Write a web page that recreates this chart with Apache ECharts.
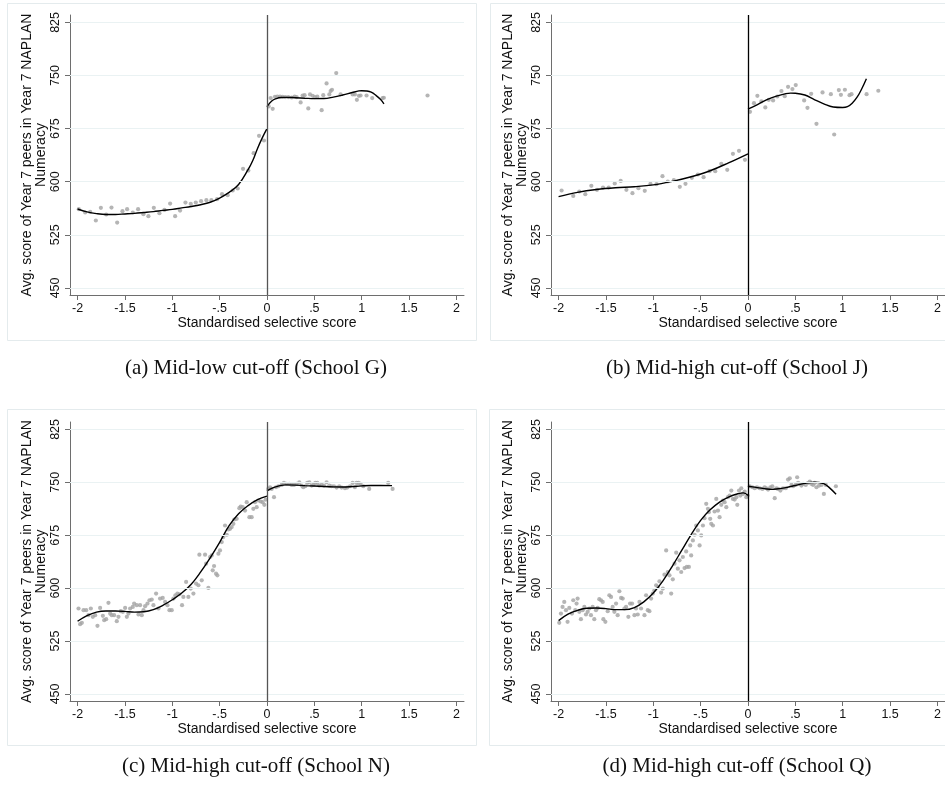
<!DOCTYPE html>
<html><head><meta charset="utf-8">
<script src="https://cdn.jsdelivr.net/npm/echarts@6/dist/echarts.min.js"></script>
<style>html,body{margin:0;padding:0;background:#fff}#c{width:945px;height:785px}</style>
</head><body><div id="c"></div>
<script>
// ---------- tick values ----------
const xTicks = [-2, -1.5, -1, -0.5, 0, 0.5, 1, 1.5, 2];
const yTicks = [450, 525, 600, 675, 750, 825];
const captions = ['(a) Mid-low cut-off (School G)', '(b) Mid-high cut-off (School J)',
                  '(c) Mid-high cut-off (School N)', '(d) Mid-high cut-off (School Q)'];
const xTitle = 'Standardised selective score';
const yTitle = 'Avg. score of Year 7 peers in Year 7 NAPLAN\nNumeracy';

// ---------- Panel A (School G) ----------
const pointsA = [[-1.987,561.2],[-1.92,556.5],[-1.867,557.4],[-1.807,545.2],[-1.754,563.1],[-1.698,553.7],[-1.642,563.5],[-1.582,542.3],[-1.526,558.4],[-1.477,561.2],[-1.417,556.5],[-1.361,561.2],[-1.305,554.1],[-1.252,551.3],[-1.195,563.1],[-1.136,555.5],[-1.083,560.2],[-1.023,569.2],[-0.97,551.3],[-0.918,559.3],[-0.861,570.6],[-0.805,568.7],[-0.752,570.6],[-0.696,572.5],[-0.64,573.9],[-0.587,573.9],[-0.527,575.3],[-0.475,582.4],[-0.415,581.0],[-0.362,587.6],[-0.309,590.4],[-0.253,618.2],[-0.197,615.8],[-0.141,640.3],[-0.084,664.8],[-0.032,658.2],
[0.018,706.3],[0.06,703.0],[0.039,718.1],[0.084,720.0],[0.109,720.4],[0.137,720.4],[0.165,720.0],[0.193,719.5],[0.225,719.5],[0.26,719.0],[0.292,720.4],[0.313,719.5],[0.355,712.0],[0.376,721.8],[0.397,722.3],[0.436,703.5],[0.454,723.3],[0.482,721.4],[0.506,719.5],[0.531,720.4],[0.577,701.1],[0.594,722.3],[0.629,738.8],[0.658,723.3],[0.672,728.0],[0.686,729.9],[0.731,753.4],[0.777,723.3],[0.904,723.3],[0.928,723.3],[0.949,715.7],[0.97,721.4],[0.988,721.8],[1.051,721.8],[1.111,718.1],[1.22,718.1],[1.234,718.6],[1.695,721.8]];
const fitALeft = [[-2,561.5],[-1.9,557.5],[-1.8,555],[-1.7,553.8],[-1.6,553.8],[-1.5,554.5],[-1.4,555.3],[-1.3,556.5],[-1.2,557.8],[-1.1,559.5],[-1.0,561],[-0.9,563],[-0.8,565],[-0.7,567.5],[-0.6,571],[-0.5,577],[-0.4,585],[-0.3,596],[-0.2,617],[-0.15,630],[-0.1,647],[-0.05,662],[0,675]];
const fitARight = [[0,706],[0.05,714],[0.1,717.5],[0.15,719],[0.2,719.2],[0.3,718.7],[0.4,718],[0.5,717.4],[0.6,717.5],[0.7,719.5],[0.8,722.5],[0.9,726],[0.97,728.3],[1.0,728.6],[1.05,728.2],[1.1,726.5],[1.15,722],[1.2,716],[1.235,710]];

// ---------- Panel B (School J) ----------
const pointsB = [[-1.968,587.6],[-1.845,580.0],[-1.781,586.2],[-1.718,582.4],[-1.654,594.2],[-1.594,588.5],[-1.531,591.8],[-1.471,591.8],[-1.407,597.5],[-1.344,601.2],[-1.284,588.5],[-1.22,583.8],[-1.157,590.9],[-1.09,587.1],[-1.03,597.0],[-0.966,596.5],[-0.903,607.8],[-0.847,600.3],[-0.783,602.2],[-0.72,592.8],[-0.66,597.0],[-0.593,605.5],[-0.529,610.2],[-0.469,606.4],[-0.406,614.9],[-0.346,614.9],[-0.282,625.3],[-0.219,616.8],[-0.159,639.4],[-0.095,643.6],[-0.032,630.9],
[0.021,698.8],[0.063,711.0],[0.099,721.4],[0.141,713.4],[0.183,704.9],[0.219,715.7],[0.265,714.8],[0.31,720.4],[0.353,728.0],[0.388,720.9],[0.423,734.1],[0.469,730.8],[0.504,736.5],[0.593,714.8],[0.628,704.4],[0.667,724.2],[0.723,681.8],[0.787,726.1],[0.875,723.7],[0.91,666.7],[0.959,729.4],[0.981,722.8],[1.023,729.9],[1.072,722.3],[1.093,723.7],[1.252,723.7],[1.376,728.5]];
const fitBLeft = [[-2,579],[-1.8,585],[-1.6,589],[-1.4,591.5],[-1.2,593],[-1.0,595.5],[-0.8,600.5],[-0.6,607],[-0.4,615.5],[-0.2,627],[0,639.5]];
const fitBRight = [[0,702.5],[0.1,709],[0.2,716],[0.3,721],[0.4,724.5],[0.45,725.2],[0.5,725],[0.6,722.5],[0.7,716],[0.8,710],[0.9,705.5],[1.0,704.8],[1.05,706],[1.1,711],[1.15,719],[1.2,731],[1.25,745.5]];

// ---------- Panel C (School N) ----------
const pointsC = [[-1.99,571.1],[-1.973,548.9],[-1.955,550.8],[-1.937,568.7],[-1.909,568.7],[-1.885,561.7],[-1.86,571.1],[-1.839,559.3],[-1.814,561.7],[-1.79,546.6],[-1.762,572.0],[-1.733,560.7],[-1.719,554.6],[-1.698,556.0],[-1.674,579.1],[-1.656,564.0],[-1.639,561.7],[-1.614,561.7],[-1.586,553.2],[-1.568,559.3],[-1.544,567.3],[-1.522,566.4],[-1.498,572.0],[-1.48,559.3],[-1.463,564.0],[-1.445,571.1],[-1.417,573.4],[-1.403,578.1],[-1.375,575.8],[-1.357,562.6],[-1.34,575.8],[-1.322,561.7],[-1.304,568.7],[-1.287,574.4],[-1.262,578.1],[-1.241,582.8],[-1.217,583.8],[-1.199,575.8],[-1.171,592.3],[-1.146,571.1],[-1.129,585.2],[-1.101,586.1],[-1.076,580.5],[-1.051,575.8],[-1.03,568.7],[-1.006,568.7],[-0.988,585.2],[-0.967,589.9],[-0.946,592.3],[-0.925,591.3],[-0.897,575.8],[-0.883,587.6],[-0.854,608.8],[-0.83,587.6],[-0.805,599.3],[-0.777,592.3],[-0.749,606.4],[-0.724,604.1],[-0.714,647.4],[-0.689,611.1],[-0.654,647.4],[-0.643,634.7],[-0.619,600.3],[-0.601,644.1],[-0.584,646.4],[-0.573,625.2],[-0.559,631.4],[-0.538,620.5],[-0.524,618.2],[-0.513,648.8],[-0.496,653.5],[-0.478,665.3],[-0.461,672.4],[-0.443,688.8],[-0.425,675.7],[-0.408,683.2],[-0.39,684.1],[-0.373,686.5],[-0.355,691.2],[-0.345,697.3],[-0.32,698.3],[-0.292,713.3],[-0.278,715.7],[-0.257,714.8],[-0.232,710.0],[-0.214,721.8],[-0.186,700.6],[-0.162,700.6],[-0.144,712.4],[-0.127,721.8],[-0.109,714.8],[-0.091,724.2],[-0.067,722.8],[-0.046,721.8],[-0.028,718.1],[-0.014,725.6],
[0.014,740.7],[0.032,743.0],[0.049,740.7],[0.074,728.9],[0.095,743.0],[0.12,744.4],[0.155,746.3],[0.179,749.2],[0.207,747.7],[0.236,747.7],[0.26,746.3],[0.285,746.3],[0.313,747.7],[0.341,750.1],[0.366,745.4],[0.383,743.0],[0.404,744.4],[0.425,749.2],[0.447,750.1],[0.471,745.4],[0.489,746.3],[0.51,749.2],[0.531,749.2],[0.552,745.4],[0.577,746.3],[0.601,745.4],[0.629,750.1],[0.658,745.4],[0.682,744.4],[0.707,744.4],[0.735,742.6],[0.763,744.4],[0.788,742.6],[0.823,741.6],[0.847,742.6],[0.876,744.4],[0.904,749.2],[0.928,743.0],[0.946,749.2],[0.967,749.2],[0.988,747.7],[1.016,744.4],[1.079,740.7],[1.28,749.2],[1.326,740.7]];
const fitCLeft = [[-2,553],[-1.9,561],[-1.8,566],[-1.7,567.5],[-1.6,567.5],[-1.5,567],[-1.4,566],[-1.3,566.5],[-1.2,569.5],[-1.1,575.5],[-1.0,583.5],[-0.9,593],[-0.8,605.5],[-0.7,623],[-0.6,643],[-0.5,665],[-0.4,688.5],[-0.3,705.5],[-0.2,717],[-0.1,725.5],[0,730.5]];
const fitCRight = [[0,738],[0.05,741.5],[0.1,744],[0.15,745.7],[0.2,746.3],[0.3,746],[0.4,745.3],[0.5,744.7],[0.6,744],[0.7,743.5],[0.8,743.3],[0.9,744],[1.0,745],[1.1,745.5],[1.2,745.5],[1.32,745.3]];

// ---------- Panel D (School Q) ----------
const pointsD = [[-1.993,550.8],[-1.975,564.0],[-1.958,573.4],[-1.94,580.5],[-1.922,568.7],[-1.905,552.2],[-1.887,572.0],[-1.859,564.0],[-1.845,582.8],[-1.824,568.7],[-1.81,578.1],[-1.799,585.2],[-1.781,566.4],[-1.764,556.0],[-1.746,568.7],[-1.728,573.4],[-1.711,562.6],[-1.693,566.4],[-1.675,571.1],[-1.658,561.7],[-1.64,573.4],[-1.623,556.0],[-1.605,568.7],[-1.587,572.0],[-1.57,584.3],[-1.552,582.8],[-1.534,580.5],[-1.527,556.0],[-1.506,552.2],[-1.481,567.3],[-1.464,589.9],[-1.446,587.6],[-1.429,573.4],[-1.411,566.4],[-1.393,578.1],[-1.376,561.7],[-1.358,595.6],[-1.34,586.1],[-1.323,585.2],[-1.305,571.1],[-1.287,573.4],[-1.263,559.3],[-1.245,578.1],[-1.224,578.1],[-1.199,561.7],[-1.182,571.1],[-1.164,562.6],[-1.146,580.5],[-1.129,571.1],[-1.093,561.7],[-1.076,589.9],[-1.058,568.7],[-1.041,567.3],[-1.023,585.2],[-1.005,592.3],[-0.988,597.0],[-0.97,604.1],[-0.952,601.7],[-0.935,609.7],[-0.917,593.7],[-0.899,599.3],[-0.882,619.1],[-0.864,653.5],[-0.847,622.9],[-0.829,618.2],[-0.811,592.3],[-0.794,612.5],[-0.776,634.7],[-0.758,650.2],[-0.741,627.6],[-0.723,639.4],[-0.705,622.9],[-0.688,644.1],[-0.67,628.5],[-0.653,652.1],[-0.646,630.0],[-0.624,630.0],[-0.61,660.6],[-0.6,646.4],[-0.582,667.6],[-0.564,675.7],[-0.547,688.8],[-0.529,681.8],[-0.511,660.6],[-0.494,674.7],[-0.476,688.8],[-0.459,699.2],[-0.441,719.5],[-0.423,712.4],[-0.413,707.7],[-0.399,698.3],[-0.388,691.2],[-0.37,688.8],[-0.353,708.6],[-0.335,726.5],[-0.317,710.0],[-0.3,700.6],[-0.282,718.1],[-0.265,724.2],[-0.247,721.8],[-0.229,714.8],[-0.212,728.9],[-0.194,731.2],[-0.176,738.3],[-0.159,726.5],[-0.141,725.6],[-0.123,728.9],[-0.113,718.1],[-0.095,738.3],[-0.081,731.2],[-0.071,741.6],[-0.053,733.6],[-0.035,736.9],[-0.018,728.9],[-0.004,731.2],
[0.018,744.4],[0.046,743.0],[0.071,741.6],[0.095,743.0],[0.123,741.6],[0.152,740.7],[0.176,743.0],[0.194,741.6],[0.212,739.7],[0.236,743.0],[0.257,744.4],[0.282,727.5],[0.3,741.6],[0.317,740.7],[0.342,738.3],[0.37,741.6],[0.399,741.6],[0.423,753.9],[0.441,755.7],[0.459,746.3],[0.476,744.4],[0.504,746.3],[0.519,757.2],[0.529,749.2],[0.547,747.7],[0.564,745.4],[0.582,747.7],[0.61,746.3],[0.635,749.2],[0.653,751.0],[0.67,747.7],[0.688,746.3],[0.705,749.2],[0.723,743.0],[0.751,745.4],[0.776,746.3],[0.801,733.6],[0.822,746.3],[0.928,744.4]];
const fitDLeft = [[-2,554],[-1.9,563],[-1.8,568.5],[-1.7,571.5],[-1.6,571.8],[-1.5,571],[-1.4,569.5],[-1.3,569.5],[-1.2,572.5],[-1.1,580.5],[-1.0,593],[-0.9,610],[-0.8,631],[-0.7,653.5],[-0.6,676],[-0.5,696],[-0.4,711],[-0.3,722],[-0.2,729.5],[-0.1,734],[-0.05,735],[0,731.5]];
const fitDRight = [[0,744.5],[0.1,742.5],[0.2,740.5],[0.25,740],[0.3,740.5],[0.4,742.5],[0.5,745.5],[0.6,748.5],[0.7,750],[0.75,749.8],[0.8,748],[0.85,743.5],[0.93,733]];

const panels = [
  {pts: pointsA, fitL: fitALeft, fitR: fitARight, vcol: '#555555'},
  {pts: pointsB, fitL: fitBLeft, fitR: fitBRight, vcol: '#000000'},
  {pts: pointsC, fitL: fitCLeft, fitR: fitCRight, vcol: '#555555'},
  {pts: pointsD, fitL: fitDLeft, fitR: fitDRight, vcol: '#000000'}
];

// ---------- layout ----------
const gridPos = [
  {left: 70, top: 15, width: 394, height: 280},
  {left: 551, top: 15, width: 394, height: 280},
  {left: 70, top: 422, width: 394, height: 279},
  {left: 551, top: 422, width: 394, height: 279}
];
const boxes = [[7,3,469,337],[490,3,470,337],[7,409,469,336],[489,409,470,336]];
const capPos = [[256,368],[737,368],[256,766],[737,766]];

const SANS = '"Liberation Sans", Arial, sans-serif';
const axisCol = '#6e6e6e';
const fmt = v => String(v).replace('0.', '.');

const option = {
  backgroundColor: '#ffffff',
  animation: false,
  grid: gridPos.map(g => Object.assign({containLabel: false}, g)),
  xAxis: gridPos.map((g, i) => ({
    gridIndex: i, type: 'value', min: -2.08, max: 2.08,
    axisLine: {show: true, onZero: false, lineStyle: {color: axisCol, width: 1}},
    axisTick: {show: true, customValues: xTicks, length: 5, lineStyle: {color: axisCol}},
    axisLabel: {customValues: xTicks, formatter: fmt, fontSize: 12.5, color: '#111', margin: 7, fontFamily: SANS},
    splitLine: {show: false},
    name: xTitle, nameLocation: 'middle', nameGap: 19,
    nameTextStyle: {fontSize: 14, color: '#111', fontFamily: SANS}
  })),
  yAxis: gridPos.map((g, i) => ({
    gridIndex: i, type: 'value', min: 440, max: 835.5,
    axisLine: {show: true, onZero: false, lineStyle: {color: axisCol, width: 1}},
    axisTick: {show: true, customValues: yTicks, length: 5, lineStyle: {color: axisCol}},
    axisLabel: {customValues: yTicks, rotate: 90, fontSize: 12.5, color: '#111', margin: 8, fontFamily: SANS},
    splitLine: {show: false},
    name: yTitle, nameLocation: 'middle', nameRotate: 90, nameGap: 21,
    nameTextStyle: {fontSize: 14, lineHeight: 14, color: '#111', fontFamily: SANS, align: 'center'}
  })),
  graphic: [
    ...boxes.map(b => ({type: 'rect', silent: true, z: -10,
      shape: {x: b[0] + 0.5, y: b[1] + 0.5, width: b[2], height: b[3]},
      style: {fill: 'none', stroke: '#e4ebed', lineWidth: 1}})),
    ...captions.map((t, i) => ({type: 'text', silent: true, x: capPos[i][0], y: capPos[i][1],
      style: {text: t, fill: '#111', font: '21px "Liberation Serif", "Times New Roman", serif',
              textAlign: 'center', textVerticalAlign: 'middle'}}))
  ],
  series: []
};

panels.forEach((p, i) => {
  // gridlines
  option.series.push({
    type: 'line', xAxisIndex: i, yAxisIndex: i, data: [], z: 1, silent: true,
    markLine: {silent: true, symbol: ['none', 'none'], label: {show: false},
      lineStyle: {color: '#eaf2f3', width: 1, type: 'solid'},
      data: yTicks.map(v => ({yAxis: v}))}
  });
  option.series.push({
    type: 'scatter', xAxisIndex: i, yAxisIndex: i, data: p.pts, z: 3,
    symbol: 'circle', symbolSize: 4.2, itemStyle: {color: '#a3a3a3'}, silent: true
  });
  option.series.push({
    type: 'line', xAxisIndex: i, yAxisIndex: i, data: p.fitL, z: 4, smooth: 0.4,
    showSymbol: false, lineStyle: {color: '#000', width: 1.4}, silent: true,
    markLine: {silent: true, symbol: ['none', 'none'], label: {show: false},
      lineStyle: {color: p.vcol, width: 1.3, type: 'solid'}, data: [{xAxis: 0}]}
  });
  option.series.push({
    type: 'line', xAxisIndex: i, yAxisIndex: i, data: p.fitR, z: 4, smooth: 0.4,
    showSymbol: false, lineStyle: {color: '#000', width: 1.4}, silent: true
  });
});

const chart = echarts.init(document.getElementById('c'), null, {renderer: 'canvas'});
chart.setOption(option);
</script></body></html>
